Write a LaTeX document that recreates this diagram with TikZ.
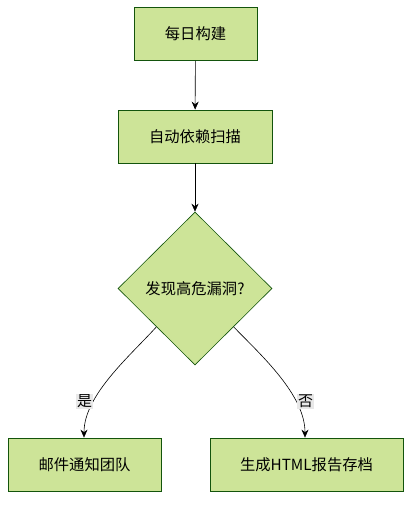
\documentclass[tikz,border=0pt]{standalone}
\usepackage{fontspec}
\setmainfont{Noto Sans CJK SC}
\usetikzlibrary{shapes.geometric,arrows.meta,calc}
\definecolor{nodefill}{HTML}{CDE498}
\definecolor{nodeline}{HTML}{13540C}
\definecolor{lblbg}{HTML}{E8E8E8}
\tikzset{
  box/.style={draw=nodeline, fill=nodefill, line width=0.8pt, minimum height=53pt, inner sep=0pt, font=\fontsize{15.3}{17}\selectfont},
  dec/.style={draw=nodeline, fill=nodefill, line width=0.6pt, diamond, minimum width=154pt, minimum height=153pt, inner sep=0pt, font=\fontsize{15.3}{17}\selectfont},
  conn/.style={draw=black, line width=0.6pt, -{Stealth[length=8pt,width=7pt]}},
  lbl/.style={fill=lblbg, inner sep=1pt, font=\fontsize{15}{17}\selectfont}
}
\begin{document}
\begin{tikzpicture}[x=1pt,y=-1pt]
\useasboundingbox (0,0) rectangle (418,508);
\node[box, minimum width=123pt] (a) at (195.5,34) {每日构建};
\node[box, minimum width=154pt] (b) at (195,136.5) {自动依赖扫描};
\node[dec] (d) at (195,288.5) {发现高危漏洞?};
\node[box, minimum width=153pt] (l) at (84.5,464.5) {邮件通知团队};
\node[box, minimum width=193pt] (r) at (306.5,464.5) {生成HTML报告存档};
\draw[conn] (a) -- (b);
\draw[conn] (b) -- (d);
\coordinate (ls) at ($(d.west)!0.5!(d.south)$);
\coordinate (rs) at ($(d.east)!0.5!(d.south)$);
\draw[conn] (ls) .. controls (130,356) and (84,395) .. (l.north -| 84,0);
\draw[conn] (rs) .. controls (262,356) and (305,395) .. (r.north -| 305,0);
\node[lbl] (ly) at (84.5,401.5) {是};
\node[lbl] (ln) at (305.5,401.5) {否};
\end{tikzpicture}
\end{document}
